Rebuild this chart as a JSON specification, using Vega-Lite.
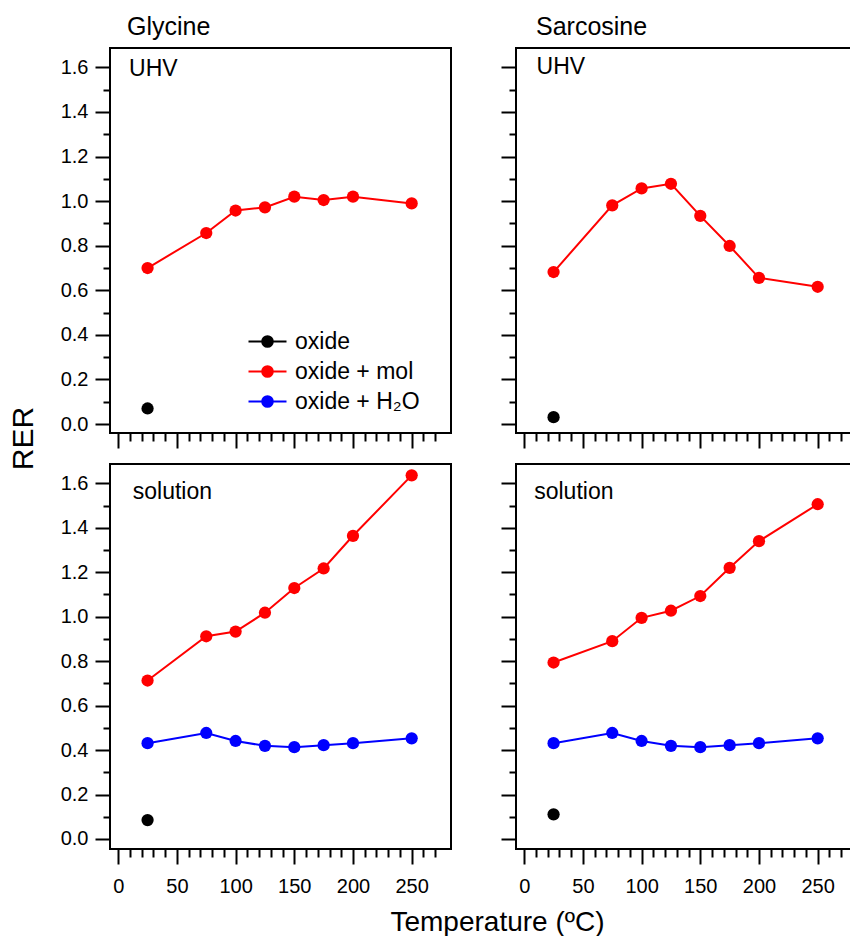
{
  "$schema": "https://vega.github.io/schema/vega-lite/v6.json",
  "background": "white",
  "padding": {"left": 7, "top": 14, "right": 0, "bottom": 0},
  "config": {
    "font": "Liberation Sans",
    "view": {"stroke": "black", "strokeWidth": 2},
    "axis": {"domain": false, "grid": false, "tickColor": "black", "tickWidth": 2, "tickCount": 100, "labelColor": "black", "labelFontSize": 20, "labelFont": "Liberation Sans", "titleFont": "Liberation Sans", "titleFontWeight": "normal", "titleColor": "black", "labelOverlap": false, "labelFlush": false},
    "title": {"fontSize": 25, "fontWeight": "normal", "anchor": "start", "frame": "group", "offset": 8, "color": "black", "font": "Liberation Sans", "baseline": "alphabetic"},
    "text": {"font": "Liberation Sans", "fontSize": 23, "color": "black", "align": "left", "baseline": "alphabetic"}
  },
  "datasets": {
    "rer": [
      {"a": "Glycine", "e": "UHV", "s": "oxide", "T": 25, "RER": 0.070},
      {"a": "Glycine", "e": "UHV", "s": "oxide + mol", "T": 25, "RER": 0.700},
      {"a": "Glycine", "e": "UHV", "s": "oxide + mol", "T": 75, "RER": 0.857},
      {"a": "Glycine", "e": "UHV", "s": "oxide + mol", "T": 100, "RER": 0.958},
      {"a": "Glycine", "e": "UHV", "s": "oxide + mol", "T": 125, "RER": 0.972},
      {"a": "Glycine", "e": "UHV", "s": "oxide + mol", "T": 150, "RER": 1.020},
      {"a": "Glycine", "e": "UHV", "s": "oxide + mol", "T": 175, "RER": 1.005},
      {"a": "Glycine", "e": "UHV", "s": "oxide + mol", "T": 200, "RER": 1.020},
      {"a": "Glycine", "e": "UHV", "s": "oxide + mol", "T": 250, "RER": 0.990},
      {"a": "Sarcosine", "e": "UHV", "s": "oxide", "T": 25, "RER": 0.031},
      {"a": "Sarcosine", "e": "UHV", "s": "oxide + mol", "T": 25, "RER": 0.682},
      {"a": "Sarcosine", "e": "UHV", "s": "oxide + mol", "T": 75, "RER": 0.981},
      {"a": "Sarcosine", "e": "UHV", "s": "oxide + mol", "T": 100, "RER": 1.057},
      {"a": "Sarcosine", "e": "UHV", "s": "oxide + mol", "T": 125, "RER": 1.078},
      {"a": "Sarcosine", "e": "UHV", "s": "oxide + mol", "T": 150, "RER": 0.934},
      {"a": "Sarcosine", "e": "UHV", "s": "oxide + mol", "T": 175, "RER": 0.799},
      {"a": "Sarcosine", "e": "UHV", "s": "oxide + mol", "T": 200, "RER": 0.656},
      {"a": "Sarcosine", "e": "UHV", "s": "oxide + mol", "T": 250, "RER": 0.616},
      {"a": "Glycine", "e": "solution", "s": "oxide", "T": 25, "RER": 0.085},
      {"a": "Glycine", "e": "solution", "s": "oxide + mol", "T": 25, "RER": 0.713},
      {"a": "Glycine", "e": "solution", "s": "oxide + mol", "T": 75, "RER": 0.912},
      {"a": "Glycine", "e": "solution", "s": "oxide + mol", "T": 100, "RER": 0.933},
      {"a": "Glycine", "e": "solution", "s": "oxide + mol", "T": 125, "RER": 1.018},
      {"a": "Glycine", "e": "solution", "s": "oxide + mol", "T": 150, "RER": 1.129},
      {"a": "Glycine", "e": "solution", "s": "oxide + mol", "T": 175, "RER": 1.217},
      {"a": "Glycine", "e": "solution", "s": "oxide + mol", "T": 200, "RER": 1.364},
      {"a": "Glycine", "e": "solution", "s": "oxide + mol", "T": 250, "RER": 1.636},
      {"a": "Glycine", "e": "solution", "s": "oxide + H₂O", "T": 25, "RER": 0.431},
      {"a": "Glycine", "e": "solution", "s": "oxide + H₂O", "T": 75, "RER": 0.477},
      {"a": "Glycine", "e": "solution", "s": "oxide + H₂O", "T": 100, "RER": 0.441},
      {"a": "Glycine", "e": "solution", "s": "oxide + H₂O", "T": 125, "RER": 0.419},
      {"a": "Glycine", "e": "solution", "s": "oxide + H₂O", "T": 150, "RER": 0.413},
      {"a": "Glycine", "e": "solution", "s": "oxide + H₂O", "T": 175, "RER": 0.422},
      {"a": "Glycine", "e": "solution", "s": "oxide + H₂O", "T": 200, "RER": 0.431},
      {"a": "Glycine", "e": "solution", "s": "oxide + H₂O", "T": 250, "RER": 0.453},
      {"a": "Sarcosine", "e": "solution", "s": "oxide", "T": 25, "RER": 0.111},
      {"a": "Sarcosine", "e": "solution", "s": "oxide + mol", "T": 25, "RER": 0.794},
      {"a": "Sarcosine", "e": "solution", "s": "oxide + mol", "T": 75, "RER": 0.890},
      {"a": "Sarcosine", "e": "solution", "s": "oxide + mol", "T": 100, "RER": 0.995},
      {"a": "Sarcosine", "e": "solution", "s": "oxide + mol", "T": 125, "RER": 1.027},
      {"a": "Sarcosine", "e": "solution", "s": "oxide + mol", "T": 150, "RER": 1.093},
      {"a": "Sarcosine", "e": "solution", "s": "oxide + mol", "T": 175, "RER": 1.220},
      {"a": "Sarcosine", "e": "solution", "s": "oxide + mol", "T": 200, "RER": 1.340},
      {"a": "Sarcosine", "e": "solution", "s": "oxide + mol", "T": 250, "RER": 1.506},
      {"a": "Sarcosine", "e": "solution", "s": "oxide + H₂O", "T": 25, "RER": 0.431},
      {"a": "Sarcosine", "e": "solution", "s": "oxide + H₂O", "T": 75, "RER": 0.477},
      {"a": "Sarcosine", "e": "solution", "s": "oxide + H₂O", "T": 100, "RER": 0.441},
      {"a": "Sarcosine", "e": "solution", "s": "oxide + H₂O", "T": 125, "RER": 0.419},
      {"a": "Sarcosine", "e": "solution", "s": "oxide + H₂O", "T": 150, "RER": 0.413},
      {"a": "Sarcosine", "e": "solution", "s": "oxide + H₂O", "T": 175, "RER": 0.422},
      {"a": "Sarcosine", "e": "solution", "s": "oxide + H₂O", "T": 200, "RER": 0.431},
      {"a": "Sarcosine", "e": "solution", "s": "oxide + H₂O", "T": 250, "RER": 0.453}
    ]
  },
  "columns": 2,
  "spacing": {"row": 31, "column": 65},
  "bounds": "flush",
  "resolve": {"scale": {"color": "independent"}, "legend": {"color": "independent"}},
  "concat": [
    {
      "width": 341, "height": 385,
      "title": {"text": "Glycine", "dx": 17},
      "layer": [
        {
          "data": {"name": "rer"},
          "transform": [{"filter": "datum.a === 'Glycine' && datum.e === 'UHV'"}],
          "mark": {"type": "line", "strokeWidth": 2},
          "encoding": {
            "x": {"field": "T", "type": "quantitative", "scale": {"domain": [-7, 283.5], "nice": false, "zero": false},
              "axis": {"values": [0,10,20,30,40,50,60,70,80,90,100,110,120,130,140,150,160,170,180,190,200,210,220,230,240,250,260,270], "tickCount": 100, "labels": false, "title": null, "tickSize": 15, "tickDash": {"condition": {"test": "datum.value % 50 !== 0", "value": [8, 40]}, "value": [15, 0]}}},
            "y": {"field": "RER", "type": "quantitative", "scale": {"domain": [-0.04, 1.687], "nice": false, "zero": false},
              "axis": {"values": [0,0.1,0.2,0.3,0.4,0.5,0.6,0.7,0.8,0.9,1.0,1.1,1.2,1.3,1.4,1.5,1.6], "tickCount": 100, "labelExpr": "round(datum.value*10) % 2 === 0 ? format(datum.value, '.1f') : ''", "labelPadding": 7, "tickSize": 15, "tickDash": {"condition": {"test": "round(datum.value*10) % 2 !== 0", "value": [7, 40]}, "value": [15, 0]},
                "title": "RER", "titleFontSize": 30, "titleX": -87, "titleY": 390, "titleAngle": -90, "titleAlign": "center", "titleBaseline": "middle"}},
            "color": {"field": "s", "type": "nominal", "scale": {"domain": ["oxide", "oxide + mol", "oxide + H₂O"], "range": ["#000000", "#ff0000", "#0000ff"]},
              "legend": {"orient": "none", "legendX": 146, "legendY": 282, "title": null, "padding": 0,
                "symbolType": "M-2,0H2M0.56,0A0.56,0.56 0 1,1 -0.56,0A0.56,0.56 0 1,1 0.56,0Z",
                "symbolSize": 361, "symbolStrokeWidth": 2, "labelFontSize": 23, "labelColor": "black", "labelFont": "Liberation Sans", "labelOffset": 16, "rowPadding": 6,
                "encode": {"symbols": {"update": {"fill": {"signal": "datum.value === 'oxide' ? '#000000' : datum.value === 'oxide + mol' ? '#ff0000' : '#0000ff'"}, "stroke": {"signal": "datum.value === 'oxide' ? '#000000' : datum.value === 'oxide + mol' ? '#ff0000' : '#0000ff'"}, "opacity": {"value": 1}, "size": {"value": 361}, "strokeWidth": {"value": 2}}}}}}
          }
        },
        {
          "data": {"name": "rer"},
          "transform": [{"filter": "datum.a === 'Glycine' && datum.e === 'UHV'"}],
          "mark": {"type": "point", "filled": true, "size": 150, "opacity": 1},
          "encoding": {
            "x": {"field": "T", "type": "quantitative"},
            "y": {"field": "RER", "type": "quantitative"},
            "color": {"field": "s", "type": "nominal"}
          }
        },
        {
          "data": {"values": [{"label": "UHV"}]},
          "mark": {"type": "text"},
          "encoding": {"x": {"datum": 9.2}, "y": {"datum": 1.563}, "text": {"field": "label"}}
        }
      ]
    },
    {
      "width": 341, "height": 385,
      "title": {"text": "Sarcosine", "dx": 20},
      "layer": [
        {
          "data": {"name": "rer"},
          "transform": [{"filter": "datum.a === 'Sarcosine' && datum.e === 'UHV'"}],
          "mark": {"type": "line", "strokeWidth": 2},
          "encoding": {
            "x": {"field": "T", "type": "quantitative", "scale": {"domain": [-7, 283.5], "nice": false, "zero": false},
              "axis": {"values": [0,10,20,30,40,50,60,70,80,90,100,110,120,130,140,150,160,170,180,190,200,210,220,230,240,250,260,270], "tickCount": 100, "labels": false, "title": null, "tickSize": 15, "tickDash": {"condition": {"test": "datum.value % 50 !== 0", "value": [8, 40]}, "value": [15, 0]}}},
            "y": {"field": "RER", "type": "quantitative", "scale": {"domain": [-0.04, 1.687], "nice": false, "zero": false},
              "axis": {"values": [0,0.1,0.2,0.3,0.4,0.5,0.6,0.7,0.8,0.9,1.0,1.1,1.2,1.3,1.4,1.5,1.6], "tickCount": 100, "labels": false, "title": null, "tickSize": 15, "tickDash": {"condition": {"test": "round(datum.value*10) % 2 !== 0", "value": [7, 40]}, "value": [15, 0]}}},
            "color": {"field": "s", "type": "nominal", "scale": {"domain": ["oxide", "oxide + mol", "oxide + H₂O"], "range": ["#000000", "#ff0000", "#0000ff"]}, "legend": null}
          }
        },
        {
          "data": {"name": "rer"},
          "transform": [{"filter": "datum.a === 'Sarcosine' && datum.e === 'UHV'"}],
          "mark": {"type": "point", "filled": true, "size": 150, "opacity": 1},
          "encoding": {
            "x": {"field": "T", "type": "quantitative"},
            "y": {"field": "RER", "type": "quantitative"},
            "color": {"field": "s", "type": "nominal", "legend": null}
          }
        },
        {
          "data": {"values": [{"label": "UHV"}]},
          "mark": {"type": "text"},
          "encoding": {"x": {"datum": 10.5}, "y": {"datum": 1.57}, "text": {"field": "label"}}
        }
      ]
    },
    {
      "width": 341, "height": 385,
      "layer": [
        {
          "data": {"name": "rer"},
          "transform": [{"filter": "datum.a === 'Glycine' && datum.e === 'solution'"}],
          "mark": {"type": "line", "strokeWidth": 2},
          "encoding": {
            "x": {"field": "T", "type": "quantitative", "scale": {"domain": [-7, 283.5], "nice": false, "zero": false},
              "axis": {"values": [0,10,20,30,40,50,60,70,80,90,100,110,120,130,140,150,160,170,180,190,200,210,220,230,240,250,260,270], "tickCount": 100, "labelExpr": "datum.value % 50 === 0 ? datum.label : ''", "labelPadding": 12, "tickSize": 15, "tickDash": {"condition": {"test": "datum.value % 50 !== 0", "value": [8, 40]}, "value": [15, 0]},
                "title": "Temperature (ºC)", "titleFontSize": 28, "titleX": 387, "titleY": 81, "titleAlign": "center", "titleBaseline": "alphabetic", "titleAnchor": null}},
            "y": {"field": "RER", "type": "quantitative", "scale": {"domain": [-0.045, 1.687], "nice": false, "zero": false},
              "axis": {"values": [0,0.1,0.2,0.3,0.4,0.5,0.6,0.7,0.8,0.9,1.0,1.1,1.2,1.3,1.4,1.5,1.6], "tickCount": 100, "labelExpr": "round(datum.value*10) % 2 === 0 ? format(datum.value, '.1f') : ''", "labelPadding": 7, "title": null, "tickSize": 15, "tickDash": {"condition": {"test": "round(datum.value*10) % 2 !== 0", "value": [7, 40]}, "value": [15, 0]}}},
            "color": {"field": "s", "type": "nominal", "scale": {"domain": ["oxide", "oxide + mol", "oxide + H₂O"], "range": ["#000000", "#ff0000", "#0000ff"]}, "legend": null}
          }
        },
        {
          "data": {"name": "rer"},
          "transform": [{"filter": "datum.a === 'Glycine' && datum.e === 'solution'"}],
          "mark": {"type": "point", "filled": true, "size": 150, "opacity": 1},
          "encoding": {
            "x": {"field": "T", "type": "quantitative"},
            "y": {"field": "RER", "type": "quantitative"},
            "color": {"field": "s", "type": "nominal", "legend": null}
          }
        },
        {
          "data": {"values": [{"label": "solution"}]},
          "mark": {"type": "text"},
          "encoding": {"x": {"datum": 12.4}, "y": {"datum": 1.528}, "text": {"field": "label"}}
        }
      ]
    },
    {
      "width": 341, "height": 385,
      "layer": [
        {
          "data": {"name": "rer"},
          "transform": [{"filter": "datum.a === 'Sarcosine' && datum.e === 'solution'"}],
          "mark": {"type": "line", "strokeWidth": 2},
          "encoding": {
            "x": {"field": "T", "type": "quantitative", "scale": {"domain": [-7, 283.5], "nice": false, "zero": false},
              "axis": {"values": [0,10,20,30,40,50,60,70,80,90,100,110,120,130,140,150,160,170,180,190,200,210,220,230,240,250,260,270], "tickCount": 100, "labelExpr": "datum.value % 50 === 0 ? datum.label : ''", "labelPadding": 12, "title": null, "tickSize": 15, "tickDash": {"condition": {"test": "datum.value % 50 !== 0", "value": [8, 40]}, "value": [15, 0]}}},
            "y": {"field": "RER", "type": "quantitative", "scale": {"domain": [-0.045, 1.687], "nice": false, "zero": false},
              "axis": {"values": [0,0.1,0.2,0.3,0.4,0.5,0.6,0.7,0.8,0.9,1.0,1.1,1.2,1.3,1.4,1.5,1.6], "tickCount": 100, "labels": false, "title": null, "tickSize": 15, "tickDash": {"condition": {"test": "round(datum.value*10) % 2 !== 0", "value": [7, 40]}, "value": [15, 0]}}},
            "color": {"field": "s", "type": "nominal", "scale": {"domain": ["oxide", "oxide + mol", "oxide + H₂O"], "range": ["#000000", "#ff0000", "#0000ff"]}, "legend": null}
          }
        },
        {
          "data": {"name": "rer"},
          "transform": [{"filter": "datum.a === 'Sarcosine' && datum.e === 'solution'"}],
          "mark": {"type": "point", "filled": true, "size": 150, "opacity": 1},
          "encoding": {
            "x": {"field": "T", "type": "quantitative"},
            "y": {"field": "RER", "type": "quantitative"},
            "color": {"field": "s", "type": "nominal", "legend": null}
          }
        },
        {
          "data": {"values": [{"label": "solution"}]},
          "mark": {"type": "text"},
          "encoding": {"x": {"datum": 8.5}, "y": {"datum": 1.528}, "text": {"field": "label"}}
        }
      ]
    }
  ]
}
